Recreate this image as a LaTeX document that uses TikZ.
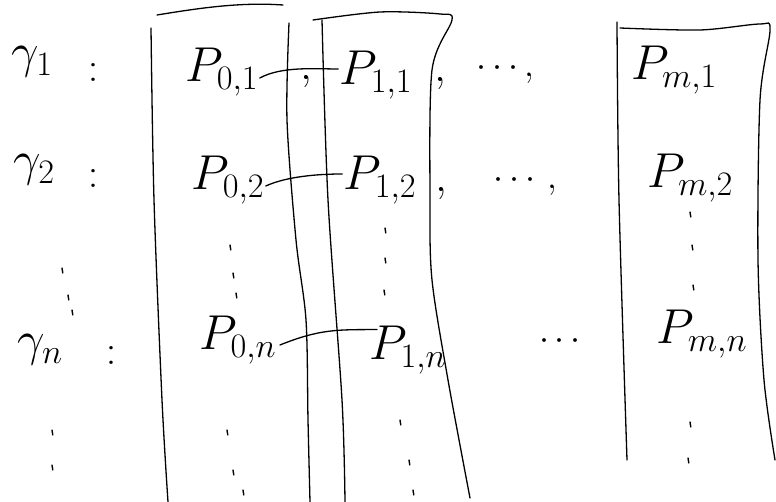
\RequirePackage{fix-cm}
\documentclass[tikz,border=0pt]{standalone}
\begin{document}
\begin{tikzpicture}[x=1pt,y=-1pt,line width=1.3pt,line cap=round,line join=round,
  big/.style={font=\fontsize{49}{49}\selectfont,inner sep=0pt},
  mid/.style={font=\fontsize{36}{36}\selectfont,inner sep=0pt},
  punct/.style={font=\fontsize{42}{42}\selectfont,inner sep=0pt},
  stroke/.style={line width=1.3pt},
  tick/.style={line width=1.4pt}]
\useasboundingbox (0,0) rectangle (776,502);
% row labels
\node[big] (g1) at (32,62) {$\gamma_1$};
\node[punct] (k1) at (93,72) {$:$};
\node[big] (g2) at (34,170) {$\gamma_2$};
\node[punct] (k2) at (93,178) {$:$};
\node[big] (gn) at (40,350) {$\gamma_n$};
\node[punct] (kn) at (111,355) {$:$};
% column boxes
\draw[stroke] plot[smooth] coordinates {(151,28) (154,200) (162,400) (168,502)};
\draw[stroke] (157,15) .. controls (200,8) and (240,2) .. (283,5);
\draw[stroke] plot[smooth] coordinates {(289,23) (287,120) (296,240) (306,320) (308,420) (310,502)};
\draw[stroke] plot[smooth] coordinates {(322,20) (328,200) (342,400) (345,502)};
\draw[stroke] plot[smooth] coordinates {(313,20) (380,12) (440,14) (452,20) (432,70) (430,200) (432,280) (448,380) (470,498)};
\draw[stroke] plot[smooth] coordinates {(617,22) (619,200) (627,460)};
\draw[stroke] plot[smooth] coordinates {(620,28) (700,30) (760,24) (770,30) (760,100) (758,260) (764,380) (775,460)};
% row 1
\node[big] (p01) at (222,72) {$P_{0,1}$};
\node[punct] (cm01) at (306,82) {$,$};
\node[big] (p11) at (376,75) {$P_{1,1}$};
\node[punct] (cm11) at (440,84) {$,$};
\node[mid] (d1) at (505,72) {$\cdots,$};
\node[big] (pm1) at (674,70) {$P_{m,1}$};
% row 2
\node[big] (p02) at (228,180) {$P_{0,2}$};
\node[big] (p12) at (380,180) {$P_{1,2}$};
\node[punct] (cm12) at (441,194) {$,$};
\node[mid] (d2) at (525,184) {$\cdots\,,$};
\node[big] (pm2) at (690,178) {$P_{m,2}$};
% row n
\node[big] (p0n) at (238,340) {$P_{0,n}$};
\node[big] (p1n) at (408,350) {$P_{1,n}$};
\node[mid] (dn) at (560,342) {$\cdots$};
\node[big] (pmn) at (702,334) {$P_{m,n}$};
% connectors
\draw[stroke] ([xshift=1pt,yshift=-6pt]p01.east) .. controls +(22,-12) and +(-22,0) .. ([xshift=-1pt,yshift=6pt]p11.west);
\draw[stroke] ([xshift=1pt,yshift=-6pt]p02.east) .. controls +(22,-10) and +(-22,0) .. ([xshift=-1pt,yshift=6pt]p12.west);
\draw[stroke] ([xshift=3pt,yshift=-5pt]p0n.east) .. controls +(40,-16) and +(-40,0) .. ([xshift=8pt,yshift=-4pt]p1n.north west);
% vertical dots
\foreach \x/\y in {62/268, 68/295, 72/310, 230/245, 233/273, 236/293, 385/228, 385/258, 384/290, 690/212, 692/245, 693/285,
  52/430, 52/465, 227/430, 233/470, 243/490, 400/420, 409/460, 413/490, 690/422, 688/458}
  \draw[tick] (\x,\y) -- ++(0.8,5);
\end{tikzpicture}
\end{document}
